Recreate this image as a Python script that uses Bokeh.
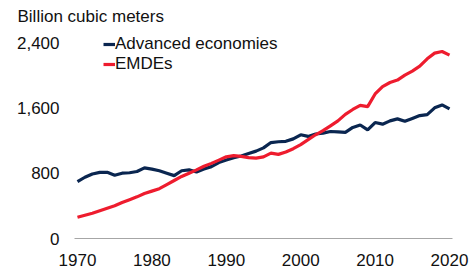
from bokeh.plotting import figure
from bokeh.embed import file_html
from bokeh.resources import INLINE
from bokeh.models import Title, Legend, LegendItem, FixedTicker, NumeralTickFormatter

years = list(range(1970, 2021))
advanced = [695, 750, 790, 810, 810, 775, 800, 805, 820, 865,
            850, 830, 800, 770, 830, 840, 815, 850, 880, 930,
            960, 990, 1010, 1040, 1070, 1110, 1175, 1185, 1190, 1220,
            1270, 1250, 1280, 1290, 1310, 1305, 1300, 1360, 1390, 1330,
            1420, 1400, 1440, 1465, 1435, 1470, 1505, 1517, 1600, 1636,
            1587]
emdes = [260, 285, 310, 340, 370, 400, 440, 475, 510, 550,
         580, 610, 660, 710, 760, 800, 840, 885, 920, 960,
         1000, 1015, 1005, 990, 985, 1000, 1045, 1030, 1060, 1100,
         1150, 1210, 1270, 1320, 1380, 1440, 1520, 1580, 1630, 1615,
         1770, 1860, 1910, 1940, 2000, 2050, 2110, 2200, 2270, 2290,
         2245]
x_ticks = [1970, 1980, 1990, 2000, 2010, 2020]
y_ticks = [0, 800, 1600, 2400]
series_names = ["Advanced economies", "EMDEs"]
unit_label = "Billion cubic meters"

FONT = "Liberation Sans"
FS = "17px"

p = figure(width=476, height=270, output_backend="svg", toolbar_location=None,
           x_range=(1969.6, 2020.4), y_range=(0, 2596),
           min_border_left=74, min_border_right=24,
           min_border_top=26, min_border_bottom=32)
p.outline_line_color = None
p.xgrid.grid_line_color = None
p.ygrid.grid_line_color = None
p.background_fill_color = "white"
p.border_fill_color = "white"

r_adv = p.line(years, advanced, line_color="#0a2650", line_width=3.2)
r_emd = p.line(years, emdes, line_color="#ee1c2e", line_width=3.2)

xa = p.xaxis[0]
xa.ticker = FixedTicker(ticks=x_ticks)
xa.axis_line_color = "#a6a6a6"
xa.axis_line_width = 1
xa.major_tick_line_color = None
xa.minor_tick_line_color = None
xa.major_tick_out = 0
xa.major_tick_in = 0
xa.minor_tick_out = 0
xa.major_label_standoff = 15
xa.major_label_text_font = FONT
xa.major_label_text_font_size = FS
xa.major_label_text_color = "#111111"

ya = p.yaxis[0]
ya.ticker = FixedTicker(ticks=y_ticks)
ya.formatter = NumeralTickFormatter(format="0,0")
ya.axis_line_color = None
ya.major_tick_line_color = None
ya.minor_tick_line_color = None
ya.major_tick_out = 0
ya.major_tick_in = 0
ya.minor_tick_out = 0
ya.major_label_standoff = 15
ya.major_label_text_font = FONT
ya.major_label_text_font_size = FS
ya.major_label_text_color = "#111111"

title = Title(text=unit_label, align="left", offset=-57, standoff=2,
              text_font=FONT, text_font_size=FS, text_font_style="normal",
              text_color="#111111")
p.add_layout(title, "above")

legend = Legend(items=[LegendItem(label=series_names[0], renderers=[r_adv]),
                       LegendItem(label=series_names[1], renderers=[r_emd])],
                location=(29, 164), orientation="vertical",
                glyph_width=12, glyph_height=18, label_height=18,
                label_standoff=0, spacing=0, padding=0, margin=0,
                label_text_font=FONT, label_text_font_size=FS,
                label_text_color="#111111",
                border_line_color=None, background_fill_alpha=0)
p.add_layout(legend)

open("out.html", "w").write(file_html(p, INLINE))
